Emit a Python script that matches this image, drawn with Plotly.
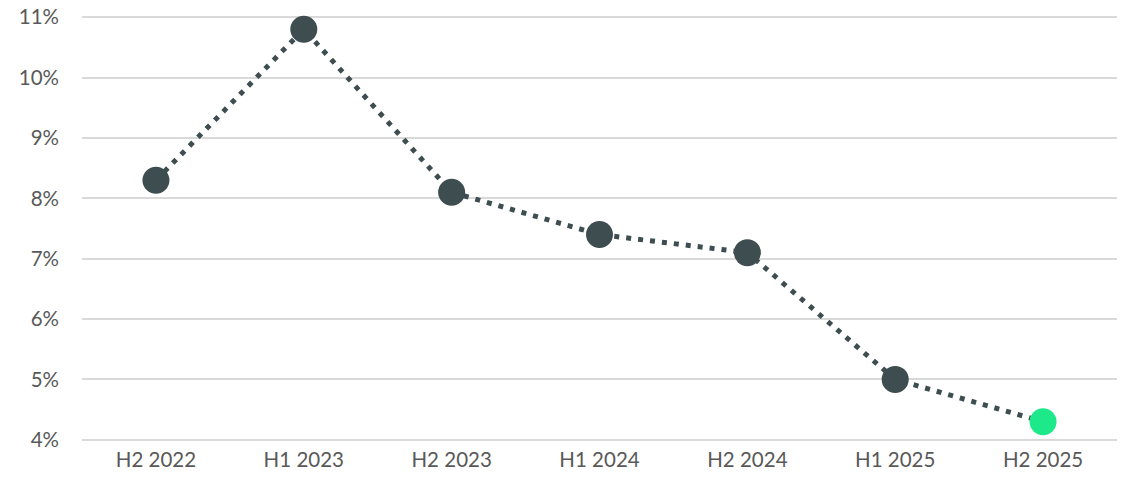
import plotly.graph_objects as go

periods = ["H2 2022", "H1 2023", "H2 2023", "H1 2024", "H2 2024", "H1 2025", "H2 2025"]
values = [8.3, 10.8, 8.1, 7.4, 7.1, 5.0, 4.3]
y_ticks = [4, 5, 6, 7, 8, 9, 10, 11]
y_labels = [f"{t}%" for t in y_ticks]

dark = "#3e4d50"
green = "#1de98b"
marker_colors = [dark] * (len(values) - 1) + [green]

fig = go.Figure()
fig.add_trace(go.Scatter(
    x=periods, y=values, mode="lines",
    line=dict(color=dark, width=5, dash="5px,7px"),
    hoverinfo="skip", showlegend=False,
))
fig.add_trace(go.Scatter(
    x=periods, y=values, mode="markers",
    marker=dict(color=marker_colors, size=27, line=dict(width=0)),
    showlegend=False, cliponaxis=False,
))

fig.update_layout(
    width=1127, height=482,
    margin=dict(l=82, r=10, t=16, b=41, autoexpand=False),
    paper_bgcolor="white", plot_bgcolor="white",
    font=dict(family="Lato, Open Sans, sans-serif", size=21, color="#595959"),
    xaxis=dict(showgrid=False, zeroline=False, showline=False, ticks="",
               tickfont=dict(size=20.5, color="#595959"), range=[-0.5, 6.5],
               ticklabelstandoff=4),
    yaxis=dict(range=[3.98, 11.02], tickvals=y_ticks, ticktext=y_labels,
               showgrid=True, gridcolor="#d9d9d9", gridwidth=1.5,
               zeroline=False, showline=False, ticks="",
               ticklabeloverflow="allow",
               ticklabelstandoff=22, tickfont=dict(size=20.5, color="#595959")),
)
fig.write_html(
    "out.html",
    config={"displayModeBar": False},
    post_script="document.body.style.margin='0';document.body.style.padding='0';",
)
